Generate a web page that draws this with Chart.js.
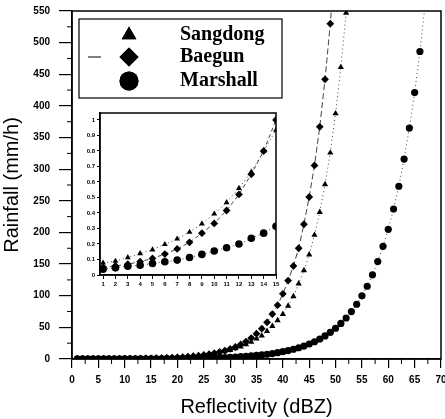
<!DOCTYPE html>
<html>
<head>
<meta charset="utf-8">
<script src="https://cdn.jsdelivr.net/npm/chart.js@4.4.1/dist/chart.umd.min.js"></script>
<style>
  body { margin: 0; background: #fff; }
  #wrap { position: relative; width: 445px; height: 419px; }
  #mainChart { position: absolute; left: 0; top: 0; }
  #insetChart { position: absolute; left: 78px; top: 104px; }
</style>
</head>
<body>
<div id="wrap">
  <canvas id="mainChart" width="445" height="419"></canvas>
  <canvas id="insetChart" width="205" height="192"></canvas>
</div>
<script>
// main chart: reflectivity (dBZ) vs rainfall (mm/h)
const dbz = [1,2,3,4,5,6,7,8,9,10,11,12,13,14,15,16,17,18,19,20,21,22,23,24,25,26,27,28,29,30,
  31,32,33,34,35,36,37,38,39,40,41,42,43,44,45,46,47,48,49,50,51,52,53,54,55,56,57,58,59,60,
  61,62,63,64,65,66,67];

const sangdong = [0.12,0.14,0.16,0.19,0.22,0.27,0.31,0.37,0.44,0.51,
  0.61,0.72,0.85,1.0,1.18,1.39,1.64,1.93,2.3,2.7,
  3.2,3.7,4.4,5.2,6.1,7.2,8.5,10.1,11.9,14,
  16.5,19.5,23,27,32,37,44,52,61,71,
  84,99,119,140,165,196,232,276,326,388,
  461,547];

const baegun = [0.08,0.1,0.12,0.14,0.17,0.2,0.24,0.29,0.35,0.42,
  0.5,0.6,0.72,0.87,1.04,1.25,1.5,1.8,2.15,2.6,
  3.1,3.7,4.5,5.3,6.4,7.7,9.2,11.1,13.3,16,
  19,23,27.5,33,40,48,58,71,85,103,
  124,147,175,213,256,306,367,442,530,636];

const marshall = [0.042,0.049,0.056,0.065,0.075,0.087,0.1,0.115,0.133,0.154,
  0.178,0.205,0.237,0.274,0.316,0.365,0.421,0.486,0.562,0.648,
  0.749,0.865,1.0,1.15,1.33,1.54,1.78,2.05,2.37,2.73,
  3.16,3.65,4.21,4.86,5.62,6.48,7.49,8.65,9.99,11.5,
  13.3,15.4,17.8,20.5,23.7,27.3,31.6,36.5,42.1,48.6,
  56.2,64.8,74.9,86.5,99.9,115,133,154,178,205,
  237,273,316,365,421,486,561];

const xTicks = [0,5,10,15,20,25,30,35,40,45,50,55,60,65,70];
const yTicks = [0,50,100,150,200,250,300,350,400,450,500,550];

// inset chart: the low end of the curves
const insetX = [1,2,3,4,5,6,7,8,9,10,11,12,13,14,15];
const insetSangdong = [0.078,0.09,0.113,0.139,0.163,0.198,0.233,0.277,0.331,0.394,0.468,0.56,0.665,0.8,0.935];
const insetBaegun = [0.05,0.058,0.07,0.086,0.107,0.135,0.168,0.211,0.27,0.333,0.416,0.52,0.65,0.8,1.0];
const insetMarshall = [0.037,0.046,0.057,0.063,0.074,0.085,0.096,0.113,0.133,0.155,0.176,0.2,0.237,0.27,0.314];
const insetYTicks = [0,0.1,0.2,0.3,0.4,0.5,0.6,0.7,0.8,0.9,1];

const legendItems = ["Sangdong", "Baegun", "Marshall"];

const SANS = '"Liberation Sans", Arial, sans-serif';

function toPoints(xs, ys) {
  return ys.map((y, i) => ({ x: xs[i], y: y }));
}

function series(xs, ys, style, radius, dash) {
  return {
    data: toPoints(xs, ys),
    showLine: true,
    borderColor: "#444",
    borderWidth: 1,
    borderDash: dash,
    pointStyle: style,
    pointRadius: radius,
    pointBackgroundColor: "#000",
    pointBorderColor: "#000",
    pointBorderWidth: 0,
  };
}

// no extra room for half labels at the ends of the axes
function noEdgePad(s) {
  s.paddingLeft = 0;
  s.paddingRight = 0;
  s.paddingTop = 0;
  s.paddingBottom = 0;
}

// box around the plot area
const frame = {
  id: "frame",
  afterDraw(chart, args, opts) {
    const { ctx, chartArea: a } = chart;
    ctx.save();
    ctx.strokeStyle = "#000";
    ctx.lineWidth = opts.width || 1.5;
    ctx.strokeRect(a.left, a.top, a.right - a.left, a.bottom - a.top);
    ctx.restore();
  },
};

// short minor ticks between the labelled ones
const minorTicks = {
  id: "minorTicks",
  afterDraw(chart, args, opts) {
    const { ctx, chartArea: a, scales } = chart;
    ctx.save();
    ctx.strokeStyle = "#000";
    ctx.lineWidth = 1;
    ctx.beginPath();
    for (let v = opts.xStep / 2; v < scales.x.max; v += opts.xStep) {
      const px = scales.x.getPixelForValue(v);
      ctx.moveTo(px, a.bottom);
      ctx.lineTo(px, a.bottom + opts.len);
    }
    for (let v = opts.yStep / 2; v < scales.y.max; v += opts.yStep) {
      const py = scales.y.getPixelForValue(v);
      ctx.moveTo(a.left - opts.len, py);
      ctx.lineTo(a.left, py);
    }
    ctx.stroke();
    ctx.restore();
  },
};

// boxed legend in the upper left corner
const boxLegend = {
  id: "boxLegend",
  afterDraw(chart) {
    const ctx = chart.ctx;
    const styles = ["triangle", "rectRot", "circle"];
    const radii = [8.5, 9.5, 9.5];
    const rows = [35, 57, 81];
    ctx.save();
    ctx.fillStyle = "#fff";
    ctx.fillRect(79, 19, 203, 79);
    ctx.strokeStyle = "#000";
    ctx.lineWidth = 1.2;
    ctx.strokeRect(79, 19, 203, 79);
    ctx.lineWidth = 1;
    ctx.beginPath();
    ctx.moveTo(88, 57);
    ctx.lineTo(101, 57);
    ctx.stroke();
    ctx.font = 'bold 20px "Liberation Serif", "Times New Roman", serif';
    ctx.textBaseline = "middle";
    ctx.fillStyle = "#000";
    legendItems.forEach((name, i) => {
      Chart.helpers.drawPoint(ctx, {
        pointStyle: styles[i], radius: radii[i], borderWidth: 0, rotation: 0,
      }, 129, rows[i]);
      ctx.fill();
      ctx.fillText(name, 180, rows[i]);
    });
    ctx.restore();
  },
};

const mainChart = new Chart(document.getElementById("mainChart"), {
  type: "scatter",
  data: {
    datasets: [
      series(dbz, marshall, "circle", 3.6, [1, 3]),
      series(dbz, baegun, "rectRot", 3.9, [6, 3]),
      series(dbz, sangdong, "triangle", 3.6, [1, 3]),
    ],
  },
  options: {
    responsive: false,
    animation: false,
    layout: { padding: { top: 11, right: 4, left: 0, bottom: 0 } },
    plugins: {
      legend: { display: false },
      tooltip: { enabled: false },
      minorTicks: { xStep: 5, yStep: 50, len: 5 },
    },
    scales: {
      x: {
        type: "linear",
        min: xTicks[0],
        max: xTicks[xTicks.length - 1],
        afterBuildTicks: (s) => { s.ticks = xTicks.map((v) => ({ value: v })); },
        afterFit: (s) => { s.height = 60; noEdgePad(s); },
        ticks: { color: "#000", padding: 6, maxRotation: 0, font: { family: SANS, size: 10, weight: "bold" } },
        grid: { drawOnChartArea: false, tickLength: 9, color: "#000", lineWidth: 1.2 },
        border: { color: "#000", width: 1.5 },
        title: {
          display: true,
          text: "Reflectivity (dBZ)",
          color: "#000",
          padding: { top: 4, bottom: 0 },
          font: { family: SANS, size: 20 },
        },
      },
      y: {
        type: "linear",
        min: yTicks[0],
        max: yTicks[yTicks.length - 1],
        afterBuildTicks: (s) => { s.ticks = yTicks.map((v) => ({ value: v })); },
        afterFit: (s) => { s.width = 72; noEdgePad(s); },
        ticks: { color: "#000", padding: 9, font: { family: SANS, size: 10, weight: "bold" } },
        grid: { drawOnChartArea: false, tickLength: 13, color: "#000", lineWidth: 1.2 },
        border: { color: "#000", width: 1.5 },
        title: {
          display: true,
          text: "Rainfall (mm/h)",
          color: "#000",
          padding: { top: 0, bottom: 0 },
          font: { family: SANS, size: 20 },
        },
      },
    },
  },
  plugins: [frame, minorTicks, boxLegend],
});

const insetChart = new Chart(document.getElementById("insetChart"), {
  type: "scatter",
  data: {
    datasets: [
      series(insetX, insetMarshall, "circle", 3.8, [1, 3]),
      series(insetX, insetBaegun, "rectRot", 3.9, [4, 3]),
      series(insetX, insetSangdong, "triangle", 3.4, [1, 3]),
    ],
  },
  options: {
    responsive: false,
    animation: false,
    layout: { padding: { top: 9, right: 7, left: 0, bottom: 0 } },
    plugins: { legend: { display: false }, tooltip: { enabled: false } },
    scales: {
      x: {
        type: "linear",
        min: 0.75,
        max: 15,
        afterBuildTicks: (s) => { s.ticks = insetX.map((v) => ({ value: v })); },
        afterFit: (s) => { s.height = 21; noEdgePad(s); },
        ticks: { color: "#000", padding: 2, autoSkip: false, maxRotation: 0, font: { family: SANS, size: 6, weight: "bold" } },
        grid: { drawOnChartArea: false, tickLength: 4, color: "#000" },
        border: { color: "#000", width: 1.5 },
      },
      y: {
        type: "linear",
        min: 0,
        max: 1.045,
        afterBuildTicks: (s) => { s.ticks = insetYTicks.map((v) => ({ value: v })); },
        afterFit: (s) => { s.width = 22; noEdgePad(s); },
        ticks: {
          color: "#000",
          padding: 2,
          font: { family: SANS, size: 6, weight: "bold" },
          callback: (v) => (v === 0 || v === 1 ? String(v) : v.toFixed(1)),
        },
        grid: { drawOnChartArea: false, tickLength: 3, color: "#000" },
        border: { color: "#000", width: 1.5 },
      },
    },
  },
  plugins: [frame],
});
</script>
</body>
</html>
